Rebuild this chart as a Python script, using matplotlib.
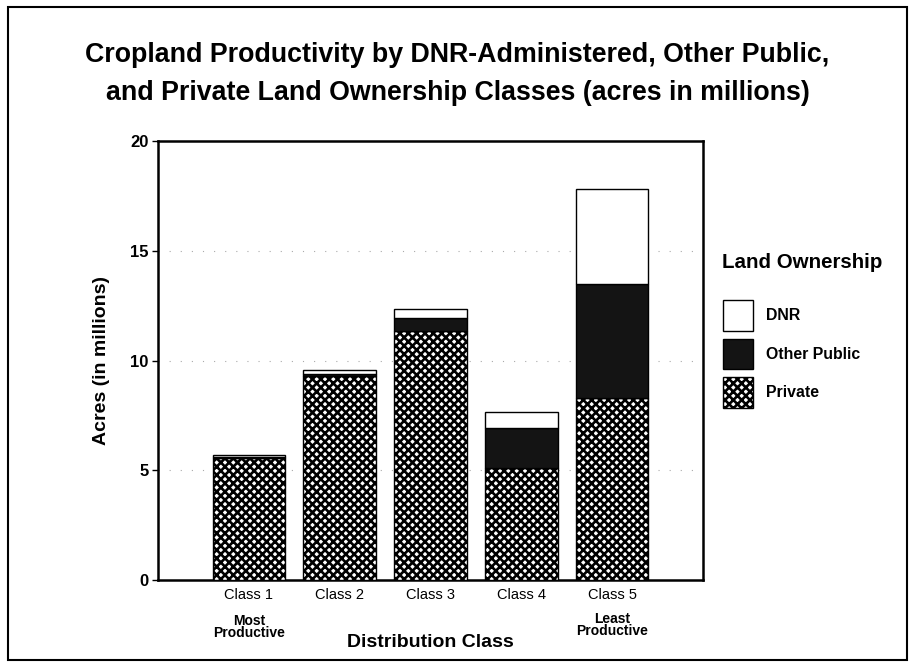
import matplotlib
matplotlib.use("Agg")
import matplotlib.pyplot as plt
from matplotlib.patches import Patch, Rectangle

plt.rcParams['font.family'] = ['Liberation Sans', 'DejaVu Sans']
plt.rcParams['hatch.linewidth'] = 1.9

classes = ['Class 1', 'Class 2', 'Class 3', 'Class 4', 'Class 5']
private = [5.55, 9.3, 11.35, 5.1, 8.3]
other_public = [0.05, 0.08, 0.6, 1.85, 5.2]
dnr = [0.08, 0.2, 0.4, 0.7, 4.3]


def main():
    fig = plt.figure(figsize=(9.15, 6.69), dpi=100)
    ax = fig.add_axes([0.1727, 0.133, 0.5956, 0.656])

    x = list(range(len(classes)))
    base2 = private
    base3 = [p + o for p, o in zip(private, other_public)]

    ax.bar(x, private, width=0.8, color='white', edgecolor='black',
           hatch='xxxx', linewidth=1.0, zorder=3)
    ax.bar(x, other_public, bottom=base2, width=0.8, color='#141414',
           edgecolor='black', linewidth=1.0, zorder=3)
    ax.bar(x, dnr, bottom=base3, width=0.8, color='white',
           edgecolor='black', linewidth=1.0, zorder=3)

    ax.set_xlim(-1, 5)
    ax.set_ylim(0, 20)
    ax.set_yticks([0, 5, 10, 15, 20])
    ax.set_xticks(x)
    ax.set_xticklabels(classes, fontsize=10.5)
    for lab in ax.get_yticklabels():
        lab.set_fontweight('bold')
        lab.set_fontsize(12)
    ax.tick_params(axis='y', length=4, width=1, pad=3)
    ax.tick_params(axis='x', length=4, width=1, pad=6, direction='in')
    for s in ax.spines.values():
        s.set_linewidth(1.8)

    for yv in [5, 10, 15]:
        ax.axhline(yv, color='#aaaaaa', linewidth=0.8,
                   linestyle=(0, (1, 9)), zorder=1)

    ax.text(0, -1.55, 'Most\nProductive', ha='center', va='top',
            fontsize=10, fontweight='bold', linespacing=0.8)
    ax.text(4, -1.45, 'Least\nProductive', ha='center', va='top',
            fontsize=10, fontweight='bold', linespacing=0.8)

    ax.set_xlabel('Distribution Class', fontsize=14, fontweight='bold',
                  labelpad=23)
    ax.set_ylabel('Acres (in millions)', fontsize=14, fontweight='bold',
                  labelpad=14)

    fig.text(0.5, 1 - 74 / 669,
             'Cropland Productivity by DNR-Administered, Other Public,\n'
             'and Private Land Ownership Classes (acres in millions)',
             ha='center', va='center', fontsize=19.3, fontweight='bold',
             linespacing=1.62)

    fig.text(722 / 915, 1 - 262 / 669, 'Land Ownership', ha='left',
             va='center', fontsize=14.8, fontweight='bold')
    handles = [
        Patch(facecolor='white', edgecolor='black', label='DNR'),
        Patch(facecolor='#141414', edgecolor='black', label='Other Public'),
        Patch(facecolor='white', edgecolor='black', hatch='xxxx', label='Private'),
    ]
    fig.legend(handles=handles, loc='upper left',
               bbox_to_anchor=(723 / 915, 1 - 300 / 669), frameon=False,
               borderpad=0, borderaxespad=0, handlelength=1.9,
               handleheight=2.6, labelspacing=0.5, handletextpad=0.8,
               prop={'weight': 'bold', 'size': 11.4})

    fig.patches.append(Rectangle((0.009, 0.013), 0.982, 0.976,
                                 transform=fig.transFigure, fill=False,
                                 edgecolor='black', linewidth=1.5))

    fig.savefig('out.png', dpi=100)


if __name__ == "__main__":
    main()
